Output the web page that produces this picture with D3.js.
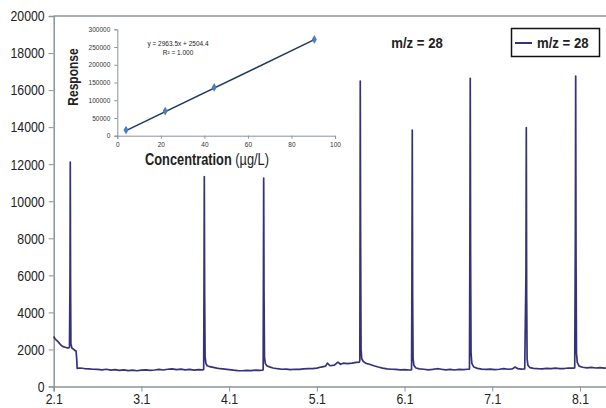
<!DOCTYPE html>
<html>
<head>
<meta charset="utf-8">
<script src="https://cdn.jsdelivr.net/npm/d3@7"></script>
<style>
  body { margin: 0; background: #fff; }
  text { font-family: "Liberation Sans", Arial, sans-serif; }
</style>
</head>
<body>
<svg id="chart" width="606" height="408"></svg>
<script>
// main chromatogram, m/z = 28 (time, signal)
var xTicks = [2.1, 3.1, 4.1, 5.1, 6.1, 7.1, 8.1];
var yTicks = [0, 2000, 4000, 6000, 8000, 10000, 12000, 14000, 16000, 18000, 20000];
var trace = [
  [2.100,2700],[2.115,2580],[2.130,2500],[2.150,2420],[2.170,2300],[2.190,2200],[2.210,2150],[2.230,2120],[2.250,2090],[2.270,2080],[2.280,2120],
  [2.286,6000],[2.289,12120],[2.292,6000],[2.296,2300],[2.310,2050],[2.325,2020],[2.340,1950],[2.355,1920],[2.362,1500],[2.368,980],
  [2.40,1000],[2.45,970],[2.50,950],[2.55,930],[2.60,920],[2.65,900],[2.70,930],[2.75,880],[2.80,910],[2.85,870],[2.90,900],[2.95,860],
  [3.00,880],[3.05,850],[3.10,880],[3.15,900],[3.20,870],[3.25,890],[3.30,920],[3.35,890],[3.40,930],[3.45,950],[3.50,910],[3.55,940],
  [3.60,900],[3.65,920],[3.70,880],[3.75,910],[3.80,900],
  [3.810,920],[3.814,6000],[3.817,11330],[3.821,5000],[3.826,1600],[3.835,1250],[3.85,1120],[3.88,1070],[3.92,1030],[3.96,990],[4.00,960],
  [4.05,940],[4.10,910],[4.15,880],[4.20,860],[4.25,850],[4.30,870],[4.35,860],[4.40,880],[4.45,870],[4.48,880],
  [4.488,900],[4.491,6000],[4.494,11250],[4.498,5000],[4.503,1600],[4.512,1250],[4.53,1120],[4.56,1060],[4.60,1000],[4.65,960],[4.70,930],
  [4.75,940],[4.80,910],[4.85,930],[4.90,920],[4.95,950],[5.00,970],[5.05,960],[5.10,990],[5.15,1050],[5.20,1100],[5.22,1260],[5.25,1120],
  [5.30,1150],[5.34,1320],[5.37,1200],[5.40,1260],[5.45,1230],[5.50,1260],[5.55,1300],[5.585,1320],
  [5.590,1400],[5.593,9000],[5.595,16480],[5.599,8000],[5.604,2000],[5.612,1500],[5.63,1350],[5.66,1250],[5.70,1200],[5.75,1120],[5.80,1050],
  [5.85,990],[5.90,950],[5.95,930],[6.00,920],[6.05,900],[6.10,910],[6.15,890],[6.18,900],
  [6.184,6000],[6.188,13840],[6.192,5000],[6.197,1500],[6.206,1150],[6.23,1000],[6.27,950],[6.32,930],[6.37,900],[6.42,920],[6.47,960],
  [6.52,930],[6.57,900],[6.62,920],[6.67,890],[6.72,920],[6.77,910],[6.82,930],[6.84,940],
  [6.845,8000],[6.849,16640],[6.853,7000],[6.858,1800],[6.867,1250],[6.89,1050],[6.93,980],[6.98,940],[7.03,920],[7.08,940],[7.13,910],
  [7.18,930],[7.23,960],[7.28,930],[7.33,950],[7.36,1050],[7.39,960],[7.43,940],[7.47,950],
  [7.484,6000],[7.488,13970],[7.492,5000],[7.497,1500],[7.506,1150],[7.53,1020],[7.57,980],[7.62,960],[7.67,950],[7.72,980],[7.77,960],
  [7.82,990],[7.87,960],[7.92,970],[7.97,1000],[8.02,990],[8.04,1000],
  [8.047,8000],[8.051,16760],[8.055,7000],[8.060,1800],[8.069,1300],[8.09,1100],[8.13,1040],[8.18,1010],[8.23,1030],[8.28,1000],[8.33,1020],
  [8.38,990],[8.395,1010]
];

// inset calibration
var concTicks = [0, 20, 40, 60, 80, 100];
var respTicks = [0, 50000, 100000, 150000, 200000, 250000, 300000];
var conc = [4, 22, 44.5, 90.5];
var resp = [16000, 69500, 136000, 271500];
var slope = 2963.5, intercept = 2504.4;

var svg = d3.select("#chart");
var axisColor = "#8a949c";
var lineColor = "#35327a";

// narrow the font horizontally, the original uses a condensed face
function squeeze(sel, sx) {
  sel.each(function() {
    var t = d3.select(this);
    var xv = +t.attr("x") || 0;
    t.attr("x", xv / sx).attr("transform", "scale(" + sx + ",1)");
  });
}

var x = d3.scaleLinear().domain([2.1, 8.4]).range([53.7, 606.3]);
var y = d3.scaleLinear().domain([0, 20000]).range([386.5, 16]);

// top border line
svg.append("line")
  .attr("x1", x(2.1)).attr("x2", 606).attr("y1", y(20000)).attr("y2", y(20000))
  .attr("stroke", axisColor).attr("stroke-width", 1.3);

var yAxis = svg.append("g")
  .attr("transform", "translate(" + x(2.1) + ",0)")
  .call(d3.axisLeft(y).tickValues(yTicks).tickSize(5).tickPadding(4).tickFormat(d3.format("d")));
var xAxis = svg.append("g")
  .attr("transform", "translate(0," + y(0) + ")")
  .call(d3.axisBottom(x).tickValues(xTicks).tickSize(5).tickPadding(2).tickFormat(d3.format(".1f")));

[yAxis, xAxis].forEach(function(g) {
  g.select(".domain").attr("stroke", axisColor).attr("stroke-width", 1.5);
  g.selectAll(".tick line").attr("stroke", axisColor);
  g.selectAll(".tick text").attr("fill", "#222").style("font-size", "15px");
  squeeze(g.selectAll(".tick text"), 0.82);
});

var line = d3.line()
  .x(function(d) { return x(d[0]); })
  .y(function(d) { return y(d[1]); });

svg.append("path")
  .datum(trace)
  .attr("d", line)
  .attr("fill", "none")
  .attr("stroke", lineColor)
  .attr("stroke-width", 1.7)
  .attr("stroke-linejoin", "round");

// labels
var mz = svg.append("text")
  .attr("x", 417).attr("y", 48.5).attr("text-anchor", "middle")
  .style("font-size", "15.5px").style("font-weight", "bold").attr("fill", "#222")
  .text("m/z = 28");
squeeze(mz, 0.85);

// legend
svg.append("rect")
  .attr("x", 511.5).attr("y", 28.5).attr("width", 88).attr("height", 28)
  .attr("fill", "#fff").attr("stroke", "#111").attr("stroke-width", 1.5);
svg.append("line")
  .attr("x1", 515).attr("x2", 532).attr("y1", 43).attr("y2", 43)
  .attr("stroke", lineColor).attr("stroke-width", 2);
var lg = svg.append("text")
  .attr("x", 537).attr("y", 48.5)
  .style("font-size", "15.5px").style("font-weight", "bold").attr("fill", "#222")
  .text("m/z = 28");
squeeze(lg, 0.85);

// inset
var ix = d3.scaleLinear().domain([0, 100]).range([117.3, 335]);
var iy = d3.scaleLinear().domain([0, 300000]).range([135.7, 29.3]);

var iyAxis = svg.append("g")
  .attr("transform", "translate(" + ix(0) + ",0)")
  .call(d3.axisLeft(iy).tickValues(respTicks).tickSize(3).tickPadding(4).tickFormat(d3.format("d")));
var ixAxis = svg.append("g")
  .attr("transform", "translate(0," + iy(0) + ")")
  .call(d3.axisBottom(ix).tickValues(concTicks).tickSize(3).tickPadding(4).tickFormat(d3.format("d")));

[iyAxis, ixAxis].forEach(function(g) {
  g.select(".domain").attr("stroke", axisColor).attr("stroke-width", 1);
  g.selectAll(".tick line").attr("stroke", axisColor);
  g.selectAll(".tick text").attr("fill", "#333").style("font-size", "6.5px");
});

svg.append("line")
  .attr("x1", ix(conc[0])).attr("x2", ix(conc[conc.length - 1]))
  .attr("y1", iy(slope * conc[0] + intercept)).attr("y2", iy(slope * conc[conc.length - 1] + intercept))
  .attr("stroke", "#1f3a60").attr("stroke-width", 1.5);

svg.selectAll(".pt")
  .data(conc)
  .enter().append("path")
  .attr("class", "pt")
  .attr("d", d3.symbol().type(d3.symbolDiamond).size(22))
  .attr("transform", function(d, i) { return "translate(" + ix(d) + "," + iy(resp[i]) + ")"; })
  .attr("fill", "#4a7ebf");

svg.append("text")
  .attr("x", 178).attr("y", 45.5).attr("text-anchor", "middle")
  .style("font-size", "6.5px").attr("fill", "#222")
  .text("y = 2963.5x + 2504.4");
svg.append("text")
  .attr("x", 178).attr("y", 54.5).attr("text-anchor", "middle")
  .style("font-size", "6.5px").attr("fill", "#222")
  .text("R² = 1.000");

svg.append("text")
  .attr("transform", "translate(78,77) rotate(-90) scale(0.8,1)")
  .attr("text-anchor", "middle")
  .style("font-size", "15px").style("font-weight", "bold").attr("fill", "#222")
  .text("Response");

var cl = svg.append("text")
  .attr("x", 207).attr("y", 165).attr("text-anchor", "middle")
  .style("font-size", "16px").attr("fill", "#222");
cl.append("tspan").style("font-weight", "bold").text("Concentration ");
cl.append("tspan").text("(µg/L)");
squeeze(cl, 0.8);
</script>
</body>
</html>
